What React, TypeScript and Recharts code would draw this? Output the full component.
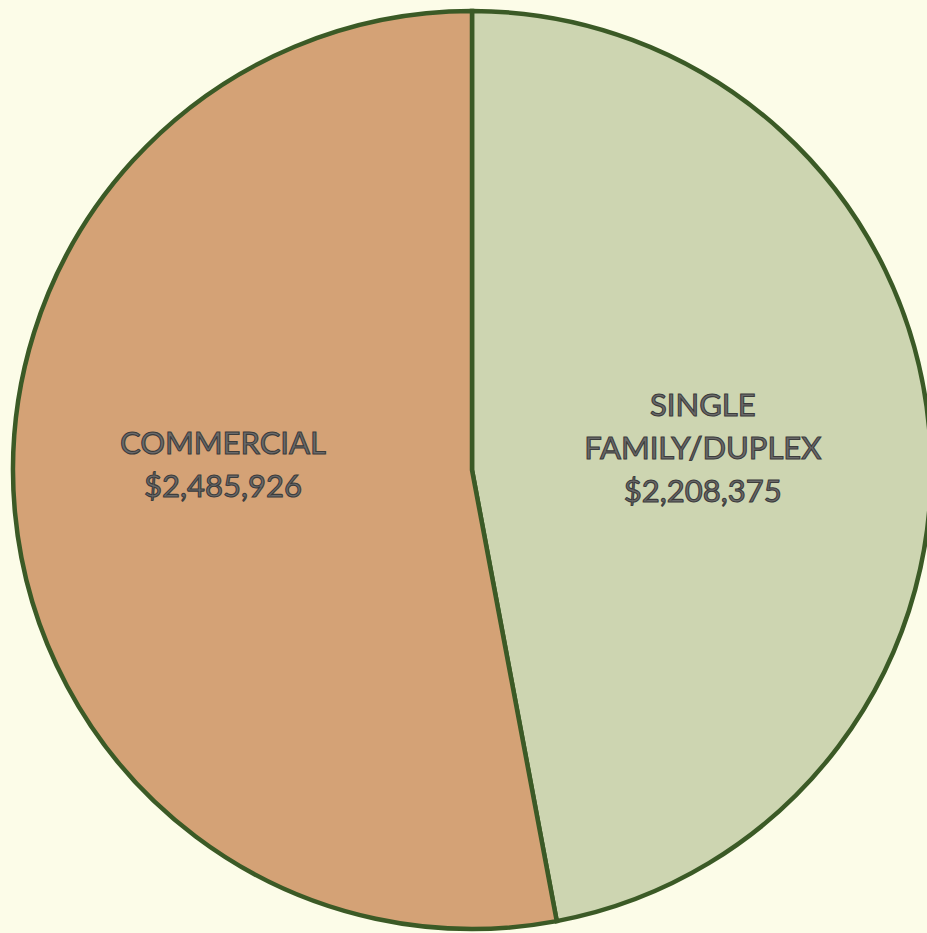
import React from 'react';
import { PieChart, Pie, Cell } from 'recharts';

const categories = ['SINGLE FAMILY/DUPLEX', 'COMMERCIAL'];
const values = [2208375, 2485926];
const labelLines = [
  ['SINGLE', 'FAMILY/DUPLEX'],
  ['COMMERCIAL'],
];

const COLORS = ['#CDD5B1', '#D4A276'];
const STROKE = '#3B5A26';
const BG = '#FCFCE8';

// label radius (fraction of outer radius) and vertical nudge per slice
const LABEL_RADIUS = [0.505, 0.545];
const LABEL_NUDGE = [-2, -30];

const data = categories.map((name, i) => ({ name, value: values[i] }));

const fmt = (v: number) => '$' + v.toLocaleString('en-US');

const RADIAN = Math.PI / 180;

const renderLabel = (props: any) => {
  const { cx, cy, midAngle, outerRadius, index, value } = props;
  const r = outerRadius * LABEL_RADIUS[index];
  const x = cx + r * Math.cos(-midAngle * RADIAN);
  const y = cy + r * Math.sin(-midAngle * RADIAN) + LABEL_NUDGE[index];
  const lines = [...labelLines[index], fmt(value)];
  const lh = 43;
  const top = y - ((lines.length - 1) * lh) / 2;
  return (
    <text
      x={x}
      y={top}
      textAnchor="middle"
      dominantBaseline="central"
      fontFamily="Lato, 'Open Sans', sans-serif"
      fontSize={31}
      fill="#6A6A6A"
      stroke="#3C3C3C"
      strokeWidth={1.1}
    >
      {lines.map((l, i) => (
        <tspan key={i} x={x} y={top + i * lh}>
          {l}
        </tspan>
      ))}
    </text>
  );
};

export default function App() {
  return (
    <div
      style={{
        position: 'absolute',
        left: 0,
        top: 0,
        width: 927,
        height: 933,
        background: BG,
        overflow: 'hidden',
      }}
    >
      <PieChart width={927} height={933} margin={{ top: 0, right: 0, bottom: 0, left: 0 }}>
        <Pie
          data={data}
          dataKey="value"
          nameKey="name"
          cx={472}
          cy={470}
          outerRadius={459}
          startAngle={90}
          endAngle={-270}
          stroke={STROKE}
          strokeWidth={4.5}
          label={renderLabel}
          labelLine={false}
          isAnimationActive={false}
        >
          {data.map((_, i) => (
            <Cell key={`slice-${i}`} fill={COLORS[i]} />
          ))}
        </Pie>
      </PieChart>
    </div>
  );
}
